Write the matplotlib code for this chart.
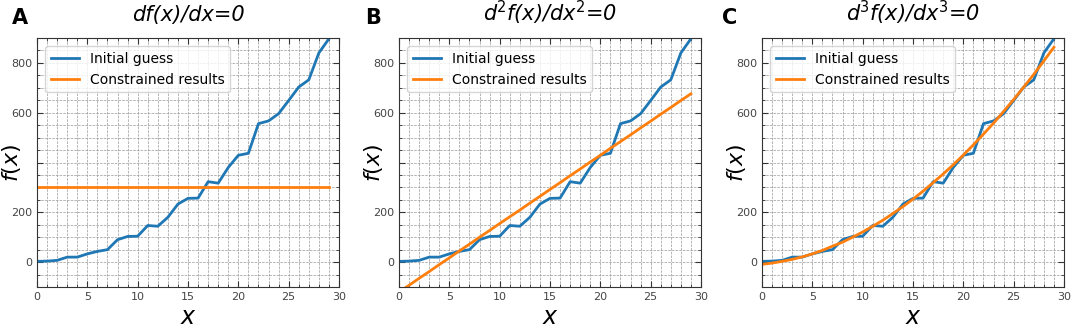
import matplotlib.pyplot as plt
from matplotlib.ticker import MultipleLocator

plt.rcParams['font.family'] = ['DejaVu Sans']
plt.rcParams['mathtext.fontset'] = 'dejavusans'

# 数据
x = list(range(30))
initial_guess = [3, 4, 7, 20, 20, 33, 43, 50, 90, 103,
                 104, 147, 144, 180, 233, 256, 257, 323, 317, 380,
                 429, 437, 556, 567, 596, 649, 703, 732, 840, 897]
constrained_1 = [303] * 30
constrained_2 = [-120, -93, -65, -38, -10, 17, 45, 72, 100, 127,
                 155, 182, 209, 237, 264, 292, 319, 347, 374, 402,
                 429, 457, 484, 511, 539, 566, 594, 621, 649, 676]
constrained_3 = [-9, -4, 3, 11, 21, 33, 47, 64, 80, 100,
                 121, 144, 168, 195, 223, 253, 285, 319, 354, 391,
                 430, 471, 514, 558, 605, 653, 703, 754, 808, 863]

titles = ['df(x)/dx=0', 'd$^2$f(x)/dx$^2$=0', 'd$^3$f(x)/dx$^3$=0']
panel_labels = ['A', 'B', 'C']
constrained = [constrained_1, constrained_2, constrained_3]

fig = plt.figure(figsize=(10.72, 3.31), dpi=100)
lefts = [37, 399, 762]
label_x = [20, 373, 730]      # 面板字母位置 (px)

for i in range(3):
    ax = fig.add_axes([lefts[i] / 1072, 44 / 331, 302 / 1072, 249 / 331])
    ax.plot(x, initial_guess, color='#1f77b4', lw=2, label='Initial guess')
    ax.plot(x, constrained[i], color='#ff7f0e', lw=2, label='Constrained results')

    ax.set_xlim(0, 30)
    ax.set_ylim(-100, 900)
    ax.xaxis.set_major_locator(MultipleLocator(5))
    ax.xaxis.set_minor_locator(MultipleLocator(1))
    ax.set_yticks([0, 200, 400, 600, 800])
    ax.set_yticklabels(['0', '200', '', '600', '800'])
    ax.yaxis.set_minor_locator(MultipleLocator(50))
    ax.tick_params(which='both', direction='in', top=True, right=True,
                   labelsize=8, labelcolor='#444444', color='#333333')
    ax.tick_params(which='major', length=4)
    ax.tick_params(which='minor', length=2)
    ax.grid(True, which='both', ls='--', lw=0.5, color='#999999')
    for s in ax.spines.values():
        s.set_color('#333333')

    ax.set_xlabel('$x$', fontsize=17, labelpad=2)
    ax.set_ylabel('$f(x)$', fontsize=16)
    ax.yaxis.set_label_coords(-0.045, 0.5)
    ax.set_title(titles[i], fontsize=15, style='italic', pad=12)
    fig.text(label_x[i] / 1072, 1 - 18 / 331, panel_labels[i],
             fontsize=15, fontweight='bold', va='center', ha='center')
    ax.legend(loc='upper left', fontsize=10, framealpha=0.8,
              handlelength=2, borderaxespad=0.6)

plt.savefig('out.png', dpi=100)
